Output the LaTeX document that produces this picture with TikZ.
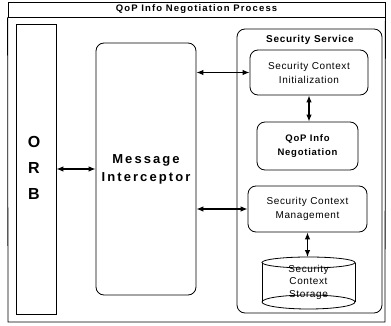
\documentclass[tikz,border=0pt]{standalone}
\usepackage{fontspec}
\setmainfont{Liberation Sans}
\usetikzlibrary{arrows.meta}
\begin{document}
\begin{tikzpicture}[x=1pt,y=-1pt,
  frame/.style={draw, line width=0.8pt},
  rbox/.style={draw, line width=0.8pt, rounded corners=8pt, inner sep=0pt, align=center},
  lbl/.style={inner sep=0pt, align=center},
  dbl/.style={line width=1.1pt, {Latex[length=7pt,width=5.5pt]}-{Latex[length=7pt,width=5.5pt]}}]
\useasboundingbox (0,0) rectangle (391,326);
% title bar and outer frame
\node[frame, minimum width=377pt, minimum height=15pt, inner sep=0pt,
  font=\fontsize{9.5}{11}\bfseries\addfontfeatures{LetterSpace=12}] (title) at (196.5,9.5)
  {QoP Info Negotiation Process};
\draw[frame] (title.south west) -- (8,322) -- (385,322) -- (title.south east);
% ORB
\node[frame, minimum width=40pt, minimum height=290pt, inner sep=0pt] (orb) at (36,169) {};
\node[lbl, font=\fontsize{16}{26}\bfseries] (orbt) at (34,168) {O\\R\\B};
% Message Interceptor
\node[rbox, minimum width=100pt, minimum height=252pt,
  font=\fontsize{13}{18}\bfseries\addfontfeatures{LetterSpace=16}] (mi) at (146,169)
  {Message\\Interceptor};
% Security Service
\node[rbox, minimum width=145pt, minimum height=284pt] (ss) at (309.5,171) {};
\node[lbl, font=\fontsize{10}{12}\bfseries\addfontfeatures{LetterSpace=7}] (sst) at (310,40) {Security Service};
% inner boxes
\node[rbox, minimum width=118pt, minimum height=45pt,
  font=\fontsize{10}{14}\selectfont\addfontfeatures{LetterSpace=6}] (sci) at (309,72.5)
  {Security Context\\Initialization};
\node[rbox, minimum width=101pt, minimum height=48pt,
  font=\fontsize{9.5}{14}\bfseries\addfontfeatures{LetterSpace=8}] (qop) at (307.5,146)
  {QoP Info\\Negotiation};
\node[rbox, minimum width=119pt, minimum height=46pt,
  font=\fontsize{10}{14}\selectfont\addfontfeatures{LetterSpace=6}] (scm) at (307.5,209)
  {Security Context\\Management};
% storage cylinder
\node[lbl, minimum width=93pt, minimum height=50pt,
  font=\fontsize{10}{12.5}\selectfont\addfontfeatures{LetterSpace=6}] (sto) at (308.5,282)
  {Security\\Context\\Storage};
\draw[frame] (308.5,262.5) ellipse [x radius=46.5pt, y radius=5.5pt];
\draw[frame] (262,262.5) -- (262,302) (355,262.5) -- (355,302);
\draw[frame] (308.5,302) ellipse [x radius=46.5pt, y radius=7pt];
\coordinate (stotop) at (308.5,257);
% connectors
\draw[dbl] (orb.east) -- (mi.west);
\draw[dbl] (mi.east |- sci.west) -- (sci.west);
\draw[dbl] (mi.east |- scm.west) -- (scm.west);
\draw[dbl] (sci.south) -- (sci.south |- qop.north);
\draw[dbl] (scm.south) -- (scm.south |- stotop);
\end{tikzpicture}
\end{document}
